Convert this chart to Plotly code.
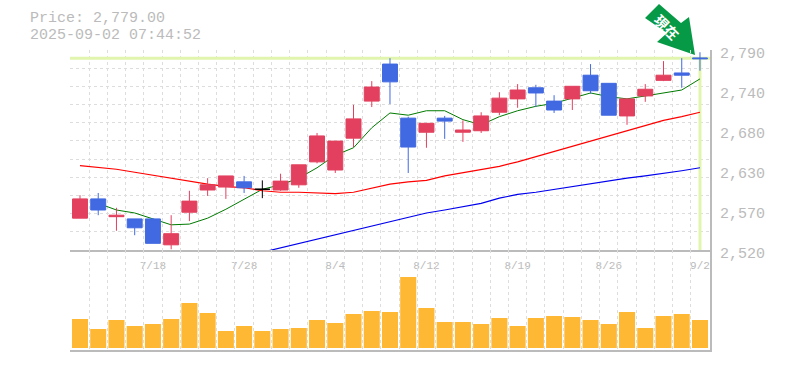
import plotly.graph_objects as go

dates = ["7/14","7/15","7/16","7/17","7/18","7/22","7/23","7/24","7/25","7/28","7/29","7/30","7/31","8/1","8/4","8/5","8/6","8/7","8/8","8/12","8/13","8/14","8/15","8/18","8/19","8/20","8/21","8/22","8/25","8/26","8/27","8/28","8/29","9/1","9/2"]
opens = [2589,2574,2567,2550,2529,2542,2586,2608,2620,2604,2602,2613,2635,2674,2667,2697,2740,2747,2659,2691,2694,2682,2701,2725,2736,2732,2709,2741,2735,2702,2724,2737,2756,2756,2778]
closes = [2563,2589,2565,2562,2562,2527,2571,2601,2605,2612,2602,2601,2608,2639,2628,2671,2721,2771,2698,2679,2698,2679,2681,2706,2724,2739,2721,2724,2756,2745,2701,2728,2749,2759,2779]
highs = [2594,2597,2577,2562,2563,2567,2600,2617,2620,2620,2614,2623,2635,2678,2667,2716,2748,2779,2700,2691,2701,2695,2706,2733,2744,2743,2729,2741,2771,2745,2724,2744,2775,2779,2787]
lows = [2563,2567,2546,2540,2529,2521,2559,2593,2589,2597,2590,2600,2604,2637,2624,2659,2713,2717,2624,2658,2670,2666,2678,2702,2712,2713,2705,2709,2731,2702,2689,2720,2748,2739,2762]
ma_short = [None,2583,2574,2570,2562,2554,2555,2563,2575,2589,2602,2608,2617,2631,2648,2658,2685,2705,2702,2708,2708,2696,2689,2700,2708,2714,2718,2725,2732,2727,2724,2728,2732,2736,2751]
ma_mid = [2634,2632,2629,2625,2621,2617,2612,2609,2606,2604,2600,2598,2598,2597,2596,2598,2604,2609,2612,2614,2620,2624,2628,2633,2639,2646,2652,2660,2667,2674,2681,2687,2695,2700,2706]
ma_long = [None]*10 + [2517,2523,2528,2534,2540,2547,2552,2559,2565,2570,2574,2578,2583,2590,2595,2598,2602,2606,2609,2613,2617,2620,2623,2627,2631]
volume = [29,19,28,22,24,29,45,35,17,22,17,19,20,28,25,34,37,36,71,40,26,26,24,30,22,30,32,31,28,24,36,20,32,34,28]
price_ticks = [2520,2574,2628,2682,2736,2790]
price_labels = ["2,520","2,570","2,630","2,680","2,740","2,790"]
date_tick_labels = ["7/18","7/28","8/4","8/12","8/19","8/26","9/2"]
last_price = 2779

UP, DOWN, DOJI = "#4169e1", "#e2405e", "#000000"
FONT = "Liberation Mono"
GREY = "#bbbbbb"
GRID = "#dddddd"
LIME = "#e2f5ae"
n = len(dates)
xs = list(range(n))
xr = [-0.548, 34.55]
yr = [2520, 2790]
xgrid = [i - 0.5 for i in range(n + 1)]
ygrid = [2520 + 24.545 * k for k in range(1, 12)]
doji = [i for i in xs if opens[i] == closes[i]]
rest = [i for i in xs if i not in doji]

fig = go.Figure()
fig.add_trace(go.Scatter(x=xr, y=[last_price, last_price], mode="lines", line=dict(color=LIME, width=3), hoverinfo="skip"))
fig.add_trace(go.Scatter(x=[n - 1, n - 1], y=[last_price, 2520], mode="lines", line=dict(color=LIME, width=3), hoverinfo="skip"))
fig.add_trace(go.Scatter(x=xs, y=ma_short, mode="lines", line=dict(color="#007a00", width=1)))
fig.add_trace(go.Scatter(x=xs, y=ma_mid, mode="lines", line=dict(color="#ff0000", width=1.2)))
fig.add_trace(go.Scatter(x=xs, y=ma_long, mode="lines", line=dict(color="#0000ee", width=1.2), cliponaxis=False))
fig.add_trace(go.Candlestick(
    x=rest, open=[opens[i] for i in rest], high=[highs[i] for i in rest],
    low=[lows[i] for i in rest], close=[closes[i] for i in rest],
    increasing=dict(line=dict(color=UP, width=1), fillcolor=UP),
    decreasing=dict(line=dict(color=DOWN, width=1), fillcolor=DOWN),
    whiskerwidth=0, xaxis="x3", yaxis="y3"))
fig.add_trace(go.Candlestick(
    x=doji, open=[opens[i] for i in doji], high=[highs[i] for i in doji],
    low=[lows[i] for i in doji], close=[closes[i] for i in doji],
    increasing=dict(line=dict(color=DOJI, width=1), fillcolor=DOJI),
    decreasing=dict(line=dict(color=DOJI, width=1), fillcolor=DOJI),
    whiskerwidth=0, xaxis="x3", yaxis="y3"))
fig.add_trace(go.Bar(x=xs, y=volume, marker=dict(color="#ffb833", line=dict(width=0)), width=0.88, xaxis="x2", yaxis="y2"))

grid = dict(showgrid=True, gridcolor=GRID, griddash="3px,3px", gridwidth=1, ticks="", zeroline=False,
            showticklabels=False, tickmode="array", automargin=False)
fig.update_layout(
    width=785, height=370, autosize=False,
    margin=dict(l=70, r=75, t=50, b=20),
    paper_bgcolor="white", plot_bgcolor="white",
    showlegend=False, boxgap=0.18, boxgroupgap=0,
    font=dict(family=FONT, color=GREY),
    xaxis=dict(domain=[0, 1], range=xr, anchor="y", rangeslider=dict(visible=False), tickvals=xgrid, **grid),
    yaxis=dict(domain=[0.3333, 1], range=yr, anchor="x", side="right", tickvals=ygrid, **grid),
    xaxis3=dict(overlaying="x", range=xr, anchor="y3", automargin=False, rangeslider=dict(visible=False),
                tickmode="array", tickvals=[dates.index(d) for d in date_tick_labels], ticktext=date_tick_labels,
                tickfont=dict(family=FONT, size=11, color=GREY), ticks="", showgrid=False, zeroline=False,
                ticklabelstandoff=4, showline=True, linecolor=GREY, linewidth=2),
    yaxis3=dict(overlaying="y", range=yr, anchor="x3", side="right", automargin=False,
                tickmode="array", tickvals=price_ticks, ticktext=price_labels,
                tickfont=dict(family=FONT, size=15, color=GREY), ticks="", showgrid=False, zeroline=False,
                ticklabelstandoff=5, ticklabelshift=3, showline=True, linecolor=GREY, linewidth=2),
    xaxis2=dict(domain=[0, 1], range=xr, anchor="y2", tickmode="array", tickvals=xgrid, showticklabels=False, automargin=False,
                showgrid=True, gridcolor=GRID, griddash="3px,3px", ticks="", zeroline=False,
                showline=True, linecolor=GREY, linewidth=2),
    yaxis2=dict(domain=[0, 0.3333], range=[-2, 98], anchor="x2", side="right", showticklabels=False, automargin=False,
                showgrid=False, zeroline=False, ticks="", showline=True, linecolor=GREY, linewidth=2),
    hovermode=False,
)
for text, top in [("Price: 2,779.00", 41), ("2025-09-02 07:44:52", 24)]:
    fig.add_annotation(xref="paper", yref="paper", x=-41 / 640, y=1 + top / 300, xanchor="left", yanchor="top", borderpad=0,
                       text=text, showarrow=False, align="left", font=dict(family=FONT, size=15, color=GREY))
px = lambda v: (v - 70) / 640
py = lambda v: (350 - v) / 300
arrow = [(659, 4), (681, 23), (689, 17), (695, 55), (657, 42), (667, 33), (645, 18)]
fig.add_shape(type="path", xref="paper", yref="paper", layer="below", line=dict(width=0), fillcolor="#069a46",
              path="M " + " L ".join(f"{px(a)} {py(b)}" for a, b in arrow) + " Z")
fig.add_annotation(xref="paper", yref="paper", x=px(667), y=py(27), xanchor="center", yanchor="middle", text="<b>現在</b>",
                   textangle=45, showarrow=False, font=dict(family="Noto Sans CJK JP", size=14, color="#ffffff"))
fig.write_html("out.html", config=dict(displayModeBar=False), post_script="document.body.style.margin='0';")
